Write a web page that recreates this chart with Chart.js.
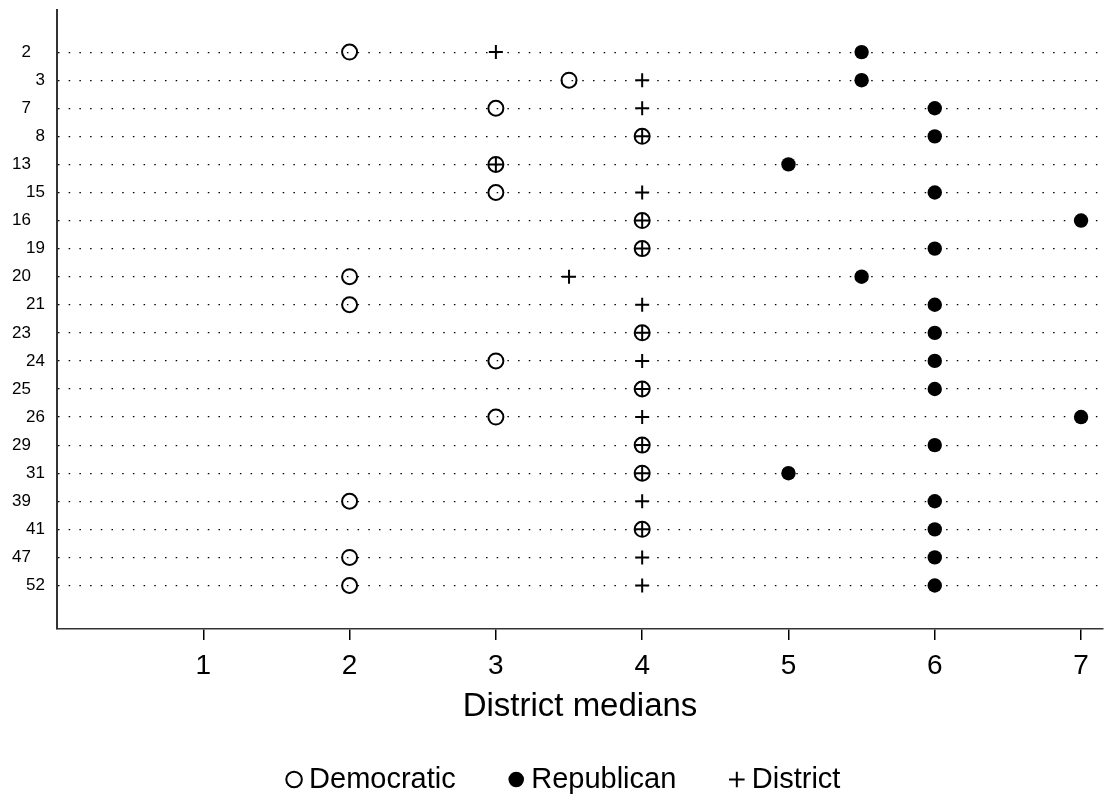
<!DOCTYPE html>
<html>
<head>
<meta charset="utf-8">
<script src="https://cdn.jsdelivr.net/npm/chart.js@4"></script>
<style>
body { margin: 0; background: #fff; }
#wrap { width: 1106px; height: 800px; }
</style>
</head>
<body>
<div id="wrap"><canvas id="chart0"></canvas></div>
<script>
var districts  = ['2','3','7','8','13','15','16','19','20','21','23','24','25','26','29','31','39','41','47','52'];
var democratic = [2, 3.5, 3, 4, 3, 3, 4, 4, 2, 2, 4, 3, 4, 3, 4, 4, 2, 4, 2, 2];
var republican = [5.5, 5.5, 6, 6, 5, 6, 7, 6, 5.5, 6, 6, 6, 6, 7, 6, 5, 6, 6, 6, 6];
var district   = [3, 4, 4, 4, 3, 4, 4, 4, 3.5, 4, 4, 4, 4, 4, 4, 4, 4, 4, 4, 4];
var xTicks     = [1, 2, 3, 4, 5, 6, 7];

function toPoints(vals) {
    return vals.map(function(v, i) { return {x: v, y: i}; });
}

Chart.defaults.font.family = '"Liberation Sans", Arial, sans-serif';
Chart.defaults.color = '#000';

var chart = new Chart(document.getElementById('chart0'), {
    type: 'scatter',
    data: {
        datasets: [
            {
                label: 'Democratic',
                data: toPoints(democratic),
                pointStyle: 'circle',
                pointRadius: 7.5,
                pointHoverRadius: 7.5,
                borderWidth: 2,
                borderColor: '#000',
                backgroundColor: 'rgba(0,0,0,0)',
                order: 1
            },{
                label: 'Republican',
                data: toPoints(republican),
                pointStyle: 'circle',
                pointRadius: 7.2,
                pointHoverRadius: 7.2,
                borderWidth: 0,
                borderColor: '#000',
                backgroundColor: '#000',
                order: 2
            },{
                label: 'District',
                data: toPoints(district),
                pointStyle: 'cross',
                pointRadius: 7,
                pointHoverRadius: 7,
                borderWidth: 2,
                borderColor: '#000',
                backgroundColor: '#000',
                order: 0
            }
        ]
    },
    options: {
        responsive: true,
        maintainAspectRatio: false,
        animation: false,
        // right padding is negative so the legend centres under the plot like the original
        layout: { autoPadding: false, padding: { top: 10, right: -28, bottom: -4, left: 0 } },
        plugins: {
            tooltip: { enabled: false },
            legend: {
                position: 'bottom',
                labels: {
                    usePointStyle: true,
                    boxWidth: 1,
                    boxHeight: 11,
                    padding: 60,
                    font: { size: 29 },
                    color: '#000',
                    sort: function(a, b) { return a.datasetIndex - b.datasetIndex; }
                }
            }
        },
        scales: {
            x: {
                type: 'linear',
                min: 0,
                max: 7.15,
                afterBuildTicks: function(s) { s.ticks = xTicks.map(function(v) { return {value: v}; }); },
                afterFit: function(s) { s.height = 76; s.paddingLeft = 0; s.paddingRight = 0; },
                ticks: { font: { size: 28 }, padding: 9, color: '#000' },
                grid: { drawOnChartArea: false, drawTicks: true, tickLength: 11, color: '#000', lineWidth: 1.5 },
                border: { color: '#333', width: 1.5 },
                title: { display: true, text: 'District medians', font: { size: 33 }, color: '#000', padding: { top: 0, bottom: -21.3 } }
            },
            y: {
                type: 'linear',
                reverse: true,
                min: -1.5,
                max: 20.55,
                afterBuildTicks: function(s) { s.ticks = districts.map(function(d, i) { return {value: i}; }); },
                afterFit: function(s) { s.width = 57; s.paddingTop = 0; s.paddingBottom = 0; },
                ticks: {
                    font: { size: 17 },
                    padding: 12,
                    color: '#000',
                    // labels alternate between two columns
                    callback: function(v) { return v % 2 === 0 ? districts[v] + '   ' : districts[v]; }
                },
                grid: { drawTicks: false, color: '#000', lineWidth: 1.2 },
                border: { color: '#333', width: 2, dash: [1.5, 9.2] }
            },
            // empty axis that just keeps the plot's right edge in place
            yPad: {
                type: 'linear',
                position: 'right',
                grid: { display: false },
                ticks: { display: false },
                border: { display: false },
                afterFit: function(s) { s.width = 31; s.paddingTop = 0; s.paddingBottom = 0; }
            }
        }
    }
});
</script>
</body>
</html>
